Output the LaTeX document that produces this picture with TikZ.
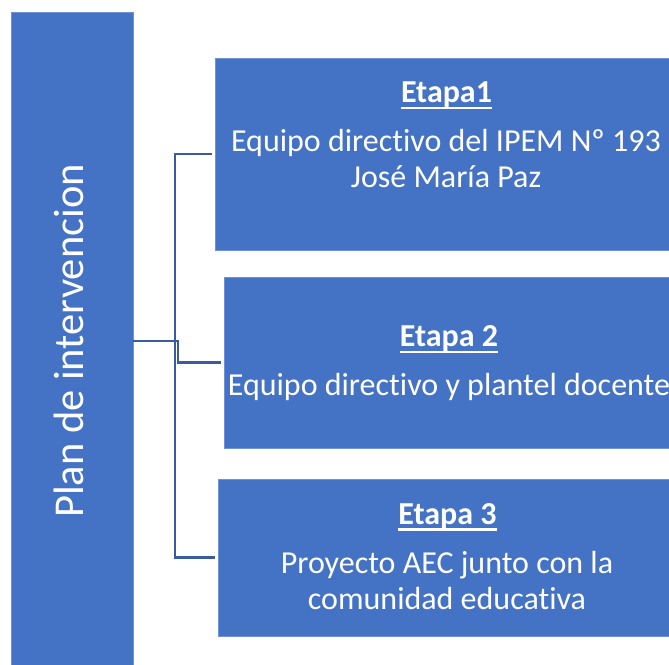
\documentclass[tikz,border=0pt]{standalone}
\usepackage{fontspec}
\setmainfont{Carlito}[Ligatures={NoCommon,NoContextual,NoRare}, Contextuals=NoAlternate]
\definecolor{boxblue}{HTML}{4472C4}
\definecolor{boxedge}{HTML}{6F93D6}
\definecolor{linkblue}{HTML}{3A5C9E}
\newcommand\myul[1]{\setbox0\hbox{#1}\rlap{\rule[-6.5pt]{\wd0}{2.2pt}}\box0}
\tikzset{
  stagebox/.style={draw=boxedge, line width=0.6pt, fill=boxblue, rectangle, inner sep=0pt},
  titletxt/.style={text=white, anchor=base, inner sep=0pt, font=\fontsize{32}{36}\selectfont\bfseries},
  bodytxt/.style={text=white, anchor=base, inner sep=0pt, font=\fontsize{32}{36}\selectfont},
  conn/.style={draw=linkblue, line width=2.3pt}
}
\begin{document}
\begin{tikzpicture}[x=1pt,y=-1pt]
\useasboundingbox (0,0) rectangle (669,664);
\clip (0,0) rectangle (669,664);
\fill[white] (0,0) rectangle (669,664);
% left tall box
\node[stagebox, minimum width=122pt, minimum height=658pt] (plan) at (72,341) {};
\node[text=white, rotate=90, anchor=base, inner sep=0pt, font=\fontsize{42.5}{46}\selectfont] (plantxt) at (83.5,341) {Plan de intervencion};
% stage boxes
\node[stagebox, minimum width=462pt, minimum height=192pt] (e1) at (446,154) {};
\node[stagebox, minimum width=450pt, minimum height=171pt] (e2) at (449,362.5) {};
\node[stagebox, minimum width=459pt, minimum height=157pt] (e3) at (447.5,557.5) {};
% texts
\node[titletxt] (t1) at (446.5,102.3) {\myul{Etapa1}};
\node[bodytxt] (b1a) at (446,151) {Equipo directivo del IPEM Nº 193};
\node[bodytxt] (b1b) at (446,187) {José María Paz};
\node[titletxt] (t2) at (449,346.7) {\myul{Etapa 2}};
\node[bodytxt] (b2) at (449,395) {Equipo directivo y plantel docente};
\node[titletxt] (t3) at (447.5,524) {\myul{Etapa 3}};
\node[bodytxt] (b3a) at (447,573.3) {Proyecto AEC junto con la};
\node[bodytxt] (b3b) at (447,609) {comunidad educativa};
% connectors
\draw[conn] (plan.east) -- ++(42,0) |- ([xshift=-3pt]e1.west);
\draw[conn] (plan.east) -- ++(45,0) |- ([xshift=-3pt]e2.west);
\draw[conn] (plan.east) -- ++(42,0) |- ([xshift=-3pt]e3.west);
\end{tikzpicture}
\end{document}
